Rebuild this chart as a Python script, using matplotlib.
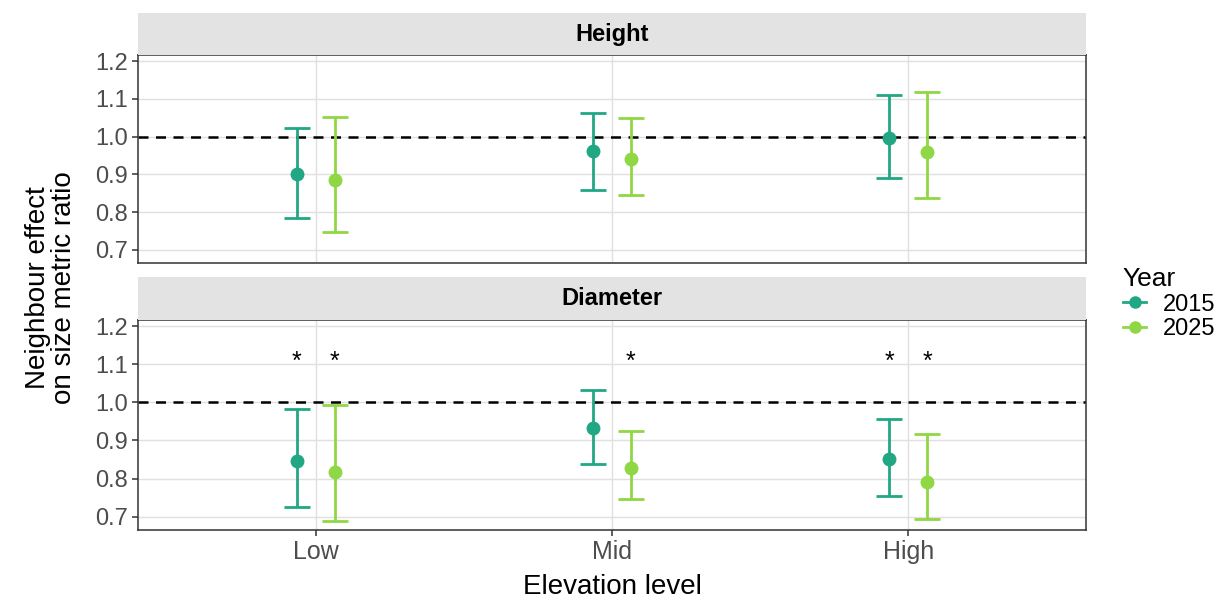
import matplotlib.pyplot as plt
from matplotlib.lines import Line2D

plt.rcParams['font.family'] = ['Liberation Sans', 'DejaVu Sans']

levels = ["Low", "Mid", "High"]
years = ["2015", "2025"]
colors = {"2015": "#21a784", "2025": "#8fd744"}

# Height panel
height_est = {"2015": [0.900, 0.962, 0.996], "2025": [0.886, 0.940, 0.958]}
height_lo = {"2015": [0.785, 0.858, 0.890], "2025": [0.748, 0.844, 0.837]}
height_hi = {"2015": [1.022, 1.063, 1.110], "2025": [1.052, 1.050, 1.117]}
height_sig = {"2015": [False, False, False], "2025": [False, False, False]}

# Diameter panel
diam_est = {"2015": [0.846, 0.932, 0.850], "2025": [0.818, 0.828, 0.791]}
diam_lo = {"2015": [0.725, 0.838, 0.754], "2025": [0.688, 0.745, 0.693]}
diam_hi = {"2015": [0.983, 1.033, 0.957], "2025": [0.993, 0.925, 0.917]}
diam_sig = {"2015": [True, False, True], "2025": [True, True, True]}

yticks = [0.7, 0.8, 0.9, 1.0, 1.1, 1.2]
star_y = 1.105

fig = plt.figure(figsize=(12.24, 6), dpi=100)
L, W = 0.1127, 0.7745
panels = [
    ("Height", height_est, height_lo, height_hi, height_sig, 0.5617, 0.3467, 0.9083, 0.0700),
    ("Diameter", diam_est, diam_lo, diam_hi, diam_sig, 0.1167, 0.3500, 0.4667, 0.0717),
]
dodge = {"2015": -0.064, "2025": 0.064}
x = [1, 2, 3]

for i, (title, est, lo, hi, sig, b, h, sb, sh) in enumerate(panels):
    ax = fig.add_axes([L, b, W, h])
    for yr in years:
        xs = [v + dodge[yr] for v in x]
        yerr = [[e - l for e, l in zip(est[yr], lo[yr])],
                [u - e for e, u in zip(est[yr], hi[yr])]]
        ax.errorbar(xs, est[yr], yerr=yerr, fmt="o", color=colors[yr],
                    ms=9, elinewidth=2, capsize=9.5, capthick=2, zorder=3)
        for xv, s in zip(xs, sig[yr]):
            if s:
                ax.text(xv, star_y, "*", ha="center", va="center", fontsize=18, zorder=4)
    ax.axhline(1.0, color="black", ls=(0, (4, 3)), lw=1.8, zorder=2)
    ax.set_xlim(0.4, 3.6)
    ax.set_ylim(0.665, 1.216)
    ax.set_yticks(yticks)
    ax.set_yticklabels([f"{t:.1f}" for t in yticks], fontsize=17, color="#4d4d4d")
    ax.set_xticks(x)
    ax.grid(True, color="#e0e0e0", lw=1.0, zorder=0)
    ax.set_axisbelow(True)
    ax.tick_params(axis="both", color="#333333", length=4, width=1.1, pad=3)
    if i == 1:
        ax.set_xticklabels(levels, fontsize=18, color="#4d4d4d")
    else:
        ax.set_xticklabels([])
        ax.tick_params(axis="x", length=0)
    for sp in ax.spines.values():
        sp.set_color("#333333")
        sp.set_linewidth(1.1)
    sax = fig.add_axes([L, sb, W, sh])
    sax.set_facecolor("#e3e3e3")
    sax.set_xticks([])
    sax.set_yticks([])
    for sp in sax.spines.values():
        sp.set_visible(False)
    sax.text(0.5, 0.5, title, ha="center", va="center", fontsize=17,
             fontweight="bold", transform=sax.transAxes)

fig.text(0.5, 0.022, "Elevation level", ha="center", va="center", fontsize=20)
fig.text(0.042, 0.52, "Neighbour effect\non size metric ratio", ha="center", va="center",
         rotation=90, fontsize=20, linespacing=1.0)

handles = [Line2D([0], [0], color=colors[yr], marker="o", ms=8, lw=2) for yr in years]
leg = fig.legend(handles, years, title="Year", loc="upper left", bbox_to_anchor=(0.9, 0.59),
                 frameon=False, fontsize=17, title_fontsize=19, handlelength=1.0,
                 handletextpad=0.7, labelspacing=0.1)
leg._legend_box.align = "left"

fig.savefig("out.png", dpi=100)
